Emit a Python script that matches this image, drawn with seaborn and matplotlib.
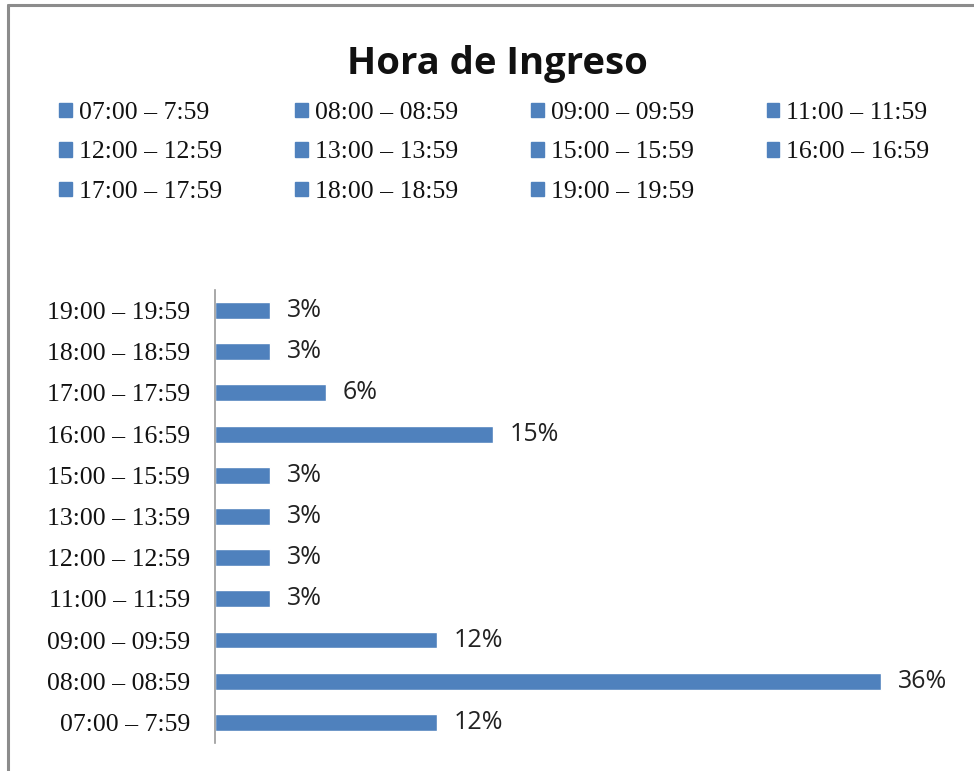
import matplotlib
matplotlib.use("Agg")
import matplotlib.pyplot as plt
from matplotlib.patches import Patch
from matplotlib.lines import Line2D
import seaborn as sns
import pandas as pd

# Data (33 patients; shares shown as rounded percentages)
franjas = ["07:00 – 7:59", "08:00 – 08:59", "09:00 – 09:59", "11:00 – 11:59",
           "12:00 – 12:59", "13:00 – 13:59", "15:00 – 15:59", "16:00 – 16:59",
           "17:00 – 17:59", "18:00 – 18:59", "19:00 – 19:59"]
pacientes = [4, 12, 4, 1, 1, 1, 1, 5, 2, 1, 1]
porcentaje = [p / sum(pacientes) * 100 for p in pacientes]

color = "#4F81BD"
serif = "Liberation Serif"
sans = "Open Sans"

sns.set_style("white")

df = pd.DataFrame({"franja": franjas, "pct": porcentaje})
orden = franjas[::-1]  # first category at the bottom

fig = plt.figure(figsize=(9.74, 7.71), dpi=100)
ax = fig.add_axes([0.2207, 0.0363, 0.7526, 0.5876])

sns.barplot(data=df, x="pct", y="franja", order=orden, hue="franja",
            palette={f: color for f in franjas}, legend=False,
            width=0.41, ax=ax, saturation=1)

ax.set_xlim(0, 40)
ax.set_ylim(10.5, -0.5)
ax.set_xlabel("")
ax.set_ylabel("")
ax.set_xticks([])
for s in ["top", "right", "bottom"]:
    ax.spines[s].set_visible(False)
ax.spines["left"].set_color("#9a9a9a")
ax.spines["left"].set_linewidth(1.2)
ax.tick_params(axis="y", length=0, pad=18)
for lbl in ax.get_yticklabels():
    lbl.set_fontfamily(serif)
    lbl.set_fontsize(18.5)
    lbl.set_color("#111111")

for cont in ax.containers:
    ax.bar_label(cont, labels=[f"{v:.0f}%" for v in cont.datavalues],
                 padding=12, fontsize=18, fontfamily=sans, color="#222222")

# Legend, row-wise order over 4 columns
ncol = 4
nrow = 3
idx = []
for c in range(ncol):
    for r in range(nrow):
        i = r * ncol + c
        if i < len(franjas):
            idx.append(i)
handles = [Patch(facecolor=color, edgecolor=color) for _ in idx]
labels = [franjas[i] for i in idx]
leg = fig.legend(handles, labels, ncol=ncol, loc="upper left",
                 bbox_to_anchor=(0.050, 0.881), frameon=False,
                 prop={"family": serif, "size": 18.5},
                 handlelength=0.5, handleheight=0.5, handletextpad=0.27,
                 columnspacing=2.84, labelspacing=0.68, borderaxespad=0)
for t in leg.get_texts():
    t.set_color("#111111")

fig.text(0.511, 0.917, "Hora de Ingreso", ha="center", va="center",
         fontsize=27.5, fontweight="bold", fontfamily=sans, color="#111111")

# chart frame (left and top border)
fig.add_artist(Line2D([0.0085, 0.0085], [0, 0.994], color="#8c8c8c", lw=2.2))
fig.add_artist(Line2D([0.0085, 1], [0.994, 0.994], color="#8c8c8c", lw=2.2))

fig.savefig("out.png", dpi=100)
